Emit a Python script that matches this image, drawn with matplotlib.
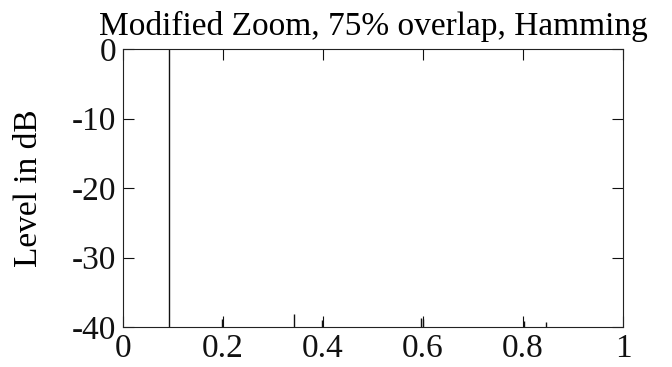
import matplotlib
matplotlib.use("Agg")
import matplotlib.pyplot as plt

# Data (normalised frequency, level in dB)
spike_freqs = [0.093, 0.198, 0.342, 0.398, 0.596, 0.600, 0.802, 0.846]
spike_levels = [0.0, -38.9, -38.1, -39.0, -38.7, -38.8, -39.1, -39.3]
floor_level = -40
x_ticks = [0, 0.2, 0.4, 0.6, 0.8, 1]
x_tick_labels = ["0", "0.2", "0.4", "0.6", "0.8", "1"]
y_ticks = [-40, -30, -20, -10, 0]
y_tick_labels = ["-40", "-30", "-20", "-10", "0"]

plt.rcParams['font.family'] = ['Liberation Serif', 'DejaVu Serif']

fig = plt.figure(figsize=(6.72, 3.67), dpi=100)
ax = fig.add_axes([0.183, 0.109, 0.744, 0.757])

ax.vlines(spike_freqs, floor_level, spike_levels, color='#111111', linewidth=1.0)

ax.set_xlim(0, 1)
ax.set_ylim(-40, 0)
ax.set_xticks(x_ticks)
ax.set_xticklabels(x_tick_labels)
ax.set_yticks(y_ticks)
ax.set_yticklabels(y_tick_labels)
ax.tick_params(direction='in', length=8, width=0.8, top=True, right=True,
               labelsize=24, pad=5, colors='#111111')
for s in ax.spines.values():
    s.set_linewidth(0.8)
    s.set_color('#222222')

ax.set_title("Modified Zoom, 75% overlap, Hamming", fontsize=24, pad=10)
ax.set_ylabel("Level in dB", fontsize=24, labelpad=20)

fig.savefig("out.png", dpi=100)
